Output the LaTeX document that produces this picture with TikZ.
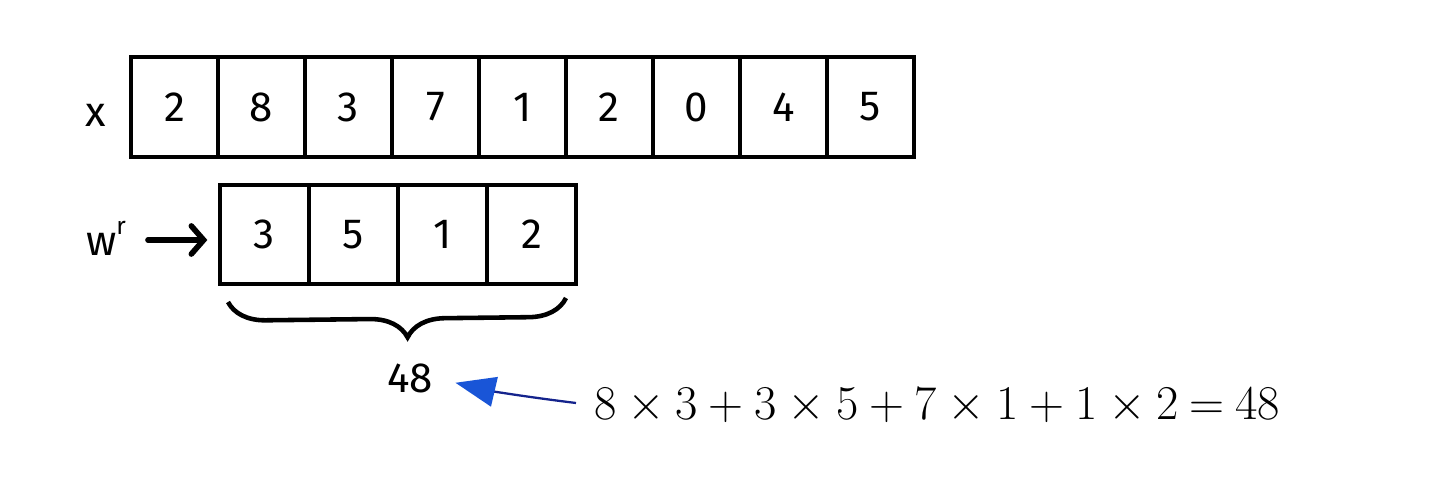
\documentclass[tikz,border=0pt]{standalone}
\usepackage{fontspec}
\usepackage{graphicx}
\newfontfamily\handfont{Fira Sans}
\usetikzlibrary{arrows.meta,decorations.pathreplacing}
\definecolor{headblue}{RGB}{25,85,215}
\definecolor{lineblue}{RGB}{20,35,140}
\tikzset{
    cell/.style={
           rectangle,
           draw=black, line width=2.4pt,
           minimum width=1.74cm,
           minimum height=2cm,
           inner sep=0pt,
           font=\handfont\fontsize{24}{24}\selectfont,
           },
    wcell/.style={cell, minimum width=1.78cm, minimum height=1.98cm},
    tag/.style={font=\handfont\fontsize{24}{24}\selectfont, inner sep=1pt},
}

\begin{document}
\begin{tikzpicture}[x=0.02cm,y=-0.02cm]
      \useasboundingbox (0,0) rectangle (1440,493);

      % input row x
      \node[tag] (xlab) at (96,115) {x};
      \node[cell] (x1) at (174.5,107) {2};
      \foreach \v [count=\i from 2, remember=\i as \j (initially 1)] in {8,3,7,1,2,0,4,5}
          \node[cell, right of=x\j, node distance=1.74cm] (x\i) {\v};

      % reversed kernel w^r
      \node[tag] (wlab) at (106,238) {w\raisebox{0.5em}{\fontsize{14}{14}\selectfont r}};
      \node[wcell] (w1) at (264.5,234.5) {3};
      \foreach \v [count=\i from 2, remember=\i as \j (initially 1)] in {5,1,2}
          \node[wcell, right of=w\j, node distance=1.78cm] (w\i) {\v};

      \coordinate (wtail) at (148,240);
      \draw[line width=3.2pt, line cap=round, shorten >=6,
            -{Straight Barb[length=7pt,width=16pt,line cap=round]}]
          (wtail) -- (wtail -| w1.west);

      % brace and sum
      \coordinate (braceL) at (228,302);
      \coordinate (braceR) at (566,298);
      \draw[line width=2.6pt, decorate,
            decoration={brace, mirror, amplitude=0.75cm, aspect=0.53}]
          (braceL) -- (braceR);

      \node[tag] (sum) at (410,378) {48};

      % the product sum
      \node[anchor=west, inner sep=0pt, font=\fontsize{31}{36}\selectfont] (eq) at (594,406)
          {\scalebox{1.11}{\thickmuskip=4mu $8\times3+3\times5+7\times1+1\times2=48$}};

      \draw[lineblue, line width=1.3pt, shorten >=12,
            -{Triangle[length=0.8cm,width=0.6cm,fill=headblue,color=headblue]}]
          (eq.west) ++(-18,-3) coordinate (eqtail)
          (eqtail) to[bend left=3] (sum.east);
\end{tikzpicture}
\end{document}
